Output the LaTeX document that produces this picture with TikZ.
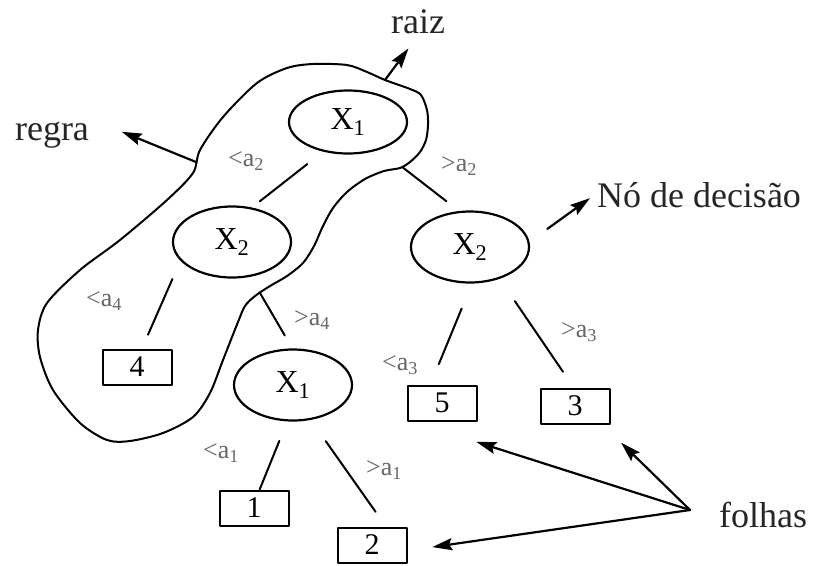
\documentclass[tikz,border=0pt]{standalone}
\usepackage{fontspec}
\setmainfont{Liberation Serif}
\usetikzlibrary{arrows.meta,shapes.geometric}

\begin{document}
\begin{tikzpicture}[
    x=1pt,
    y=-1pt,
    >={Stealth[length=20pt,width=12pt,inset=3pt]},
    line join=round,
    line cap=round,
    every node/.style={inner sep=2pt},
    teste/.style={draw, ellipse, line width=2.2pt, minimum width=118pt, minimum height=71pt, inner sep=0pt, font=\fontsize{32}{34}\selectfont},
    folha/.style={draw, rectangle, line width=2pt, minimum width=69pt, minimum height=35pt, inner sep=0pt, font=\fontsize{30}{32}\selectfont},
    ramo/.style={line width=2pt},
    seta/.style={->, line width=2.2pt},
    contorno/.style={line width=2pt},
    rotulo/.style={anchor=base, text=black!85, font=\fontsize{36}{40}\selectfont},
    cond/.style={text=black!60, font=\fontsize{26}{28}\selectfont}
]

\useasboundingbox (0,0) rectangle (813,565);

\node[teste, minimum height=63pt] (x1) at (348,122) {X\textsubscript{1}};
\node[teste] (x2a) at (232,242) {X\textsubscript{2}};
\node[teste] (x2b) at (470,247) {X\textsubscript{2}};
\node[teste] (x1b) at (293,385) {X\textsubscript{1}};

\node[folha] (f4) at (137,367) {4};
\node[folha] (f5) at (442,403) {5};
\node[folha] (f3) at (575,406) {3};
\node[folha] (f1) at (254,508) {1};
\node[folha] (f2) at (372,545) {2};

\node[cond] (c1) at (246,161) {<a\textsubscript{2}};
\node[cond] (c2) at (459,166) {>a\textsubscript{2}};
\node[cond] (c3) at (104,301) {<a\textsubscript{4}};
\node[cond] (c4) at (312,320) {>a\textsubscript{4}};
\node[cond] (c5) at (400,365) {<a\textsubscript{3}};
\node[cond] (c6) at (579,332) {>a\textsubscript{3}};
\node[cond] (c7) at (221,453) {<a\textsubscript{1}};
\node[cond] (c8) at (384,470) {>a\textsubscript{1}};

\node[rotulo] (raiz) at (418,33) {raiz};
\node[rotulo] (regra) at (52,140) {regra};
\node[rotulo] (nodecisao) at (699,207) {Nó de decisão};
\node[rotulo] (folhas) at (763,527) {folhas};

\coordinate (cRaiz) at (385,80);
\coordinate (cRegra) at (196,162);
\coordinate (cFolhas) at (690,510);

\draw[contorno] plot[smooth cycle, tension=0.5] coordinates {
    (257,83) (287,68) (313,64) (347,65) (367,72) (385,80) (410,89) (421,95)
    (427,110) (428,125) (426,140) (420,152) (410,162) (400,168) (384,171)
    (365,179) (347,192) (333,208) (323,226) (314,246) (303,263) (287,276)
    (270,286) (255,296) (245,306) (238,322) (223,360) (210,393) (193,417)
    (163,433) (130,441) (107,440) (80,423) (53,390) (40,357) (38,330)
    (47,303) (80,270) (120,240) (167,200) (193,173) (200,150) (223,117)};

\draw[ramo, shorten <=20pt, shorten >=10pt] (x1.230) -- (x2a.60);
\draw[ramo, shorten <=29pt, shorten >=16pt] (x1.319) -- (x2b.107);
\draw[ramo, shorten <=20pt, shorten >=15pt] (x2a.200) -- (f4.75);
\draw[ramo, shorten <=18pt, shorten >=15pt] (x2a.298) -- (x1b.91);
\draw[ramo, shorten <=21pt] (x1b.261) -- (f1.73);
\draw[ramo, shorten <=26pt, shorten >=18pt] (x1b.297) -- (f2.53);
\draw[ramo, shorten <=27pt, shorten >=22pt] (x2b.273) -- (f5.122);
\draw[ramo, shorten <=27pt, shorten >=19pt] (x2b.313) -- (f3.94);

\draw[seta, shorten >=16pt] (cRaiz) -- (raiz.south);
\draw[seta, shorten >=33pt] (cRegra) -- (regra.north east);
\draw[seta, shorten <=22pt, shorten >=6pt] (x2b.5) -- (nodecisao.west);
\draw[seta, shorten >=67pt] (cFolhas) -- (f5.212);
\draw[seta, shorten >=26pt] (cFolhas) -- (f3.326);
\draw[seta, shorten >=25pt] (cFolhas) -- (f2.351);

\end{tikzpicture}
\end{document}
